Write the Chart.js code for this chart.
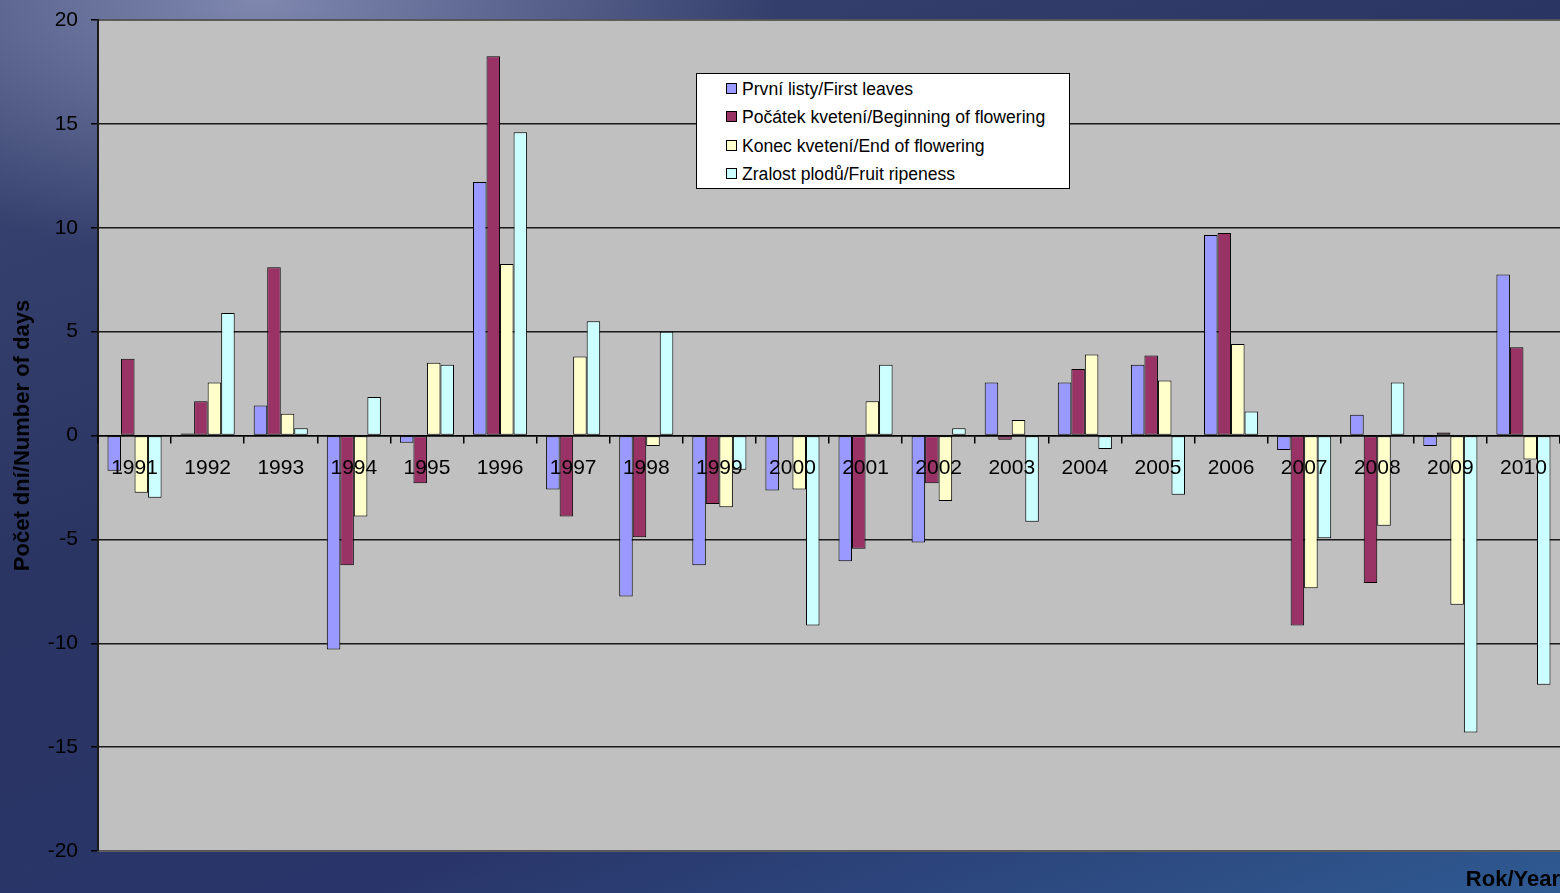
<!DOCTYPE html>
<html>
<head>
<meta charset="utf-8">
<script src="https://cdn.jsdelivr.net/npm/chart.js@4/dist/chart.umd.min.js"></script>
<style>
  html, body { margin: 0; padding: 0; }
  #wrap {
    position: relative; width: 1560px; height: 893px; overflow: hidden;
    background:
      radial-gradient(ellipse 520px 260px at 260px 0px, rgba(150,158,195,0.75), rgba(150,158,195,0) 100%),
      linear-gradient(160deg, #3c4774 0%, #2b3563 40%, #29356a 70%, #2f5a92 100%);
    font-family: 'Liberation Sans', Arial, sans-serif;
  }
  #legend {
    position: absolute; left: 696px; top: 73px; width: 372px; height: 114px;
    background: #fff; border: 1px solid #000;
    box-sizing: content-box;
  }
  #legend .item { position: absolute; left: 29px; height: 20px; line-height: 20px; font-size: 17.6px; color: #000; white-space: nowrap; }
  #legend .box { display: inline-block; width: 9px; height: 9px; border: 1px solid #000; margin-right: 5px; vertical-align: 1px; }
</style>
</head>
<body>
<div id="wrap">
  <canvas id="chart"></canvas>
  <div id="legend"></div>
</div>
<script>
const years = ['1991', '1992', '1993', '1994', '1995', '1996', '1997', '1998', '1999', '2000',
               '2001', '2002', '2003', '2004', '2005', '2006', '2007', '2008', '2009', '2010'];
const firstLeaves    = [-1.7, 0.1, 1.45, -10.3, -0.35, 12.2, -2.6, -7.75, -6.25, -2.65, -6.05, -5.15, 2.55, 2.55, 3.4, 9.65, -0.7, 1.0, -0.5, 7.75];
const beginFlowering = [3.7, 1.65, 8.1, -6.25, -2.3, 18.25, -3.9, -4.9, -3.3, -0.05, -5.45, -2.3, -0.2, 3.2, 3.85, 9.75, -9.15, -7.1, 0.15, 4.25];
const endFlowering   = [-2.75, 2.55, 1.05, -3.9, 3.5, 8.25, 3.8, -0.5, -3.45, -2.6, 1.65, -3.15, 0.75, 3.9, 2.65, 4.4, -7.35, -4.35, -8.15, -1.15];
const fruitRipeness  = [-3.0, 5.9, 0.35, 1.85, 3.4, 14.6, 5.5, 5.0, -1.65, -9.15, 3.4, 0.35, -4.15, -0.65, -2.85, 1.15, -4.95, 2.55, -14.3, -12.0];

const seriesLabels = ['První listy/First leaves', 'Počátek kvetení/Beginning of flowering', 'Konec kvetení/End of flowering', 'Zralost plodů/Fruit ripeness'];
const seriesColors = ['#9999FF', '#993366', '#FFFFCC', '#CCFFFF'];
const yTicks = [-20, -15, -10, -5, 0, 5, 10, 15, 20];

const FONT = "'Liberation Sans', Arial, sans-serif";

// grey plot area with a thin frame
const plotBg = {
  id: 'plotBg',
  beforeDraw(chart) {
    const { ctx, chartArea: a } = chart;
    ctx.save();
    ctx.fillStyle = '#C0C0C0';
    ctx.fillRect(a.left, a.top, a.right - a.left, a.bottom - a.top);
    ctx.strokeStyle = '#666';
    ctx.lineWidth = 2;
    ctx.strokeRect(a.left, a.top, a.right - a.left + 4, a.bottom - a.top);
    ctx.restore();
  }
};

const allSeries = [firstLeaves, beginFlowering, endFlowering, fruitRipeness];

new Chart(document.getElementById('chart'), {
  type: 'bar',
  data: {
    labels: years,
    datasets: allSeries.map((d, i) => ({
      label: seriesLabels[i],
      data: d,
      backgroundColor: seriesColors[i],
      borderColor: '#000',
      borderWidth: 1,
      borderSkipped: false,
      categoryPercentage: 0.74,
      barPercentage: 1.0
    }))
  },
  options: {
    responsive: true,
    maintainAspectRatio: false,
    animation: false,
    layout: { padding: { top: 20, left: 0, right: 0, bottom: 2 } },
    plugins: {
      legend: { display: false },
      tooltip: { enabled: false },
      title: {
        display: true, text: 'Rok/Year', position: 'bottom', align: 'end', color: '#000',
        font: { family: FONT, size: 22, weight: 'bold', lineHeight: 1 },
        padding: { top: 18, bottom: 0 }
      }
    },
    scales: {
      x: {
        position: { y: 0 },
        grid: { display: true, drawOnChartArea: false, drawTicks: true, tickLength: 7, color: '#000', lineWidth: 1.5, z: 1 },
        border: { display: true, color: '#000', width: 1.5, z: 1 },
        ticks: { color: '#000', font: { family: FONT, size: 21 }, padding: 13, maxRotation: 0, autoSkip: false, z: 1 }
      },
      y: {
        min: -20, max: 20,
        afterFit(scale) { scale.width = 98; scale.paddingTop = 0; scale.paddingBottom = 0; },
        afterBuildTicks(scale) { scale.ticks = yTicks.map(v => ({ value: v })); },
        grid: {
          color: ctx => (ctx.tick && Math.abs(ctx.tick.value) === 20) ? '#555' : '#1a1a1a',
          lineWidth: 1.5, tickLength: 7, drawTicks: true, tickColor: '#000'
        },
        border: { display: true, color: '#1a1a1a', width: 2 },
        ticks: { color: '#000', font: { family: FONT, size: 21 }, padding: 13 },
        title: {
          display: true, text: 'Počet dní/Number of days', color: '#000',
          font: { family: FONT, size: 22, weight: 'bold', lineHeight: 1.2 },
          padding: { top: 10, bottom: 0 }
        }
      }
    }
  },
  plugins: [plotBg]
});

// legend box as html text
const legend = document.getElementById('legend');
seriesLabels.forEach((lab, i) => {
  const el = document.createElement('div');
  el.className = 'item';
  el.style.top = (5 + i * 28.3) + 'px';
  el.innerHTML = '<span class="box" style="background:' + seriesColors[i] + '"></span>' + lab;
  legend.appendChild(el);
});
</script>
</body>
</html>
